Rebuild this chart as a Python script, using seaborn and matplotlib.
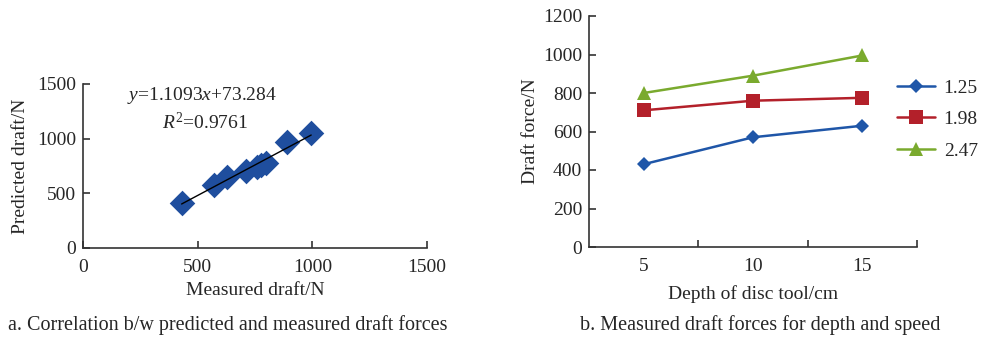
import numpy as np
import pandas as pd
import matplotlib
matplotlib.use("Agg")
import matplotlib.pyplot as plt
import seaborn as sns

sns.set_theme(style="ticks")
plt.rcParams['font.family'] = ['Liberation Serif', 'DejaVu Serif']
plt.rcParams['mathtext.fontset'] = 'custom'
plt.rcParams['mathtext.rm'] = 'Liberation Serif'
plt.rcParams['mathtext.it'] = 'Liberation Serif:italic'

# a. 实测与预测牵引力
measured = [430, 570, 630, 710, 760, 775, 800, 890, 995]
predicted = [410, 580, 645, 700, 740, 760, 775, 965, 1050]

# b. 不同深度与速度下的牵引力
depths = [5, 10, 15]
speeds = ['1.25', '1.98', '2.47']
force_125 = [430, 570, 630]
force_198 = [710, 760, 775]
force_247 = [800, 890, 995]

colors = {'1.25': '#1f56a8', '1.98': '#b3202a', '2.47': '#7aaa2e'}
markers = {'1.25': 'D', '1.98': 's', '2.47': '^'}
msize = {'1.25': 7, '1.98': 10, '2.47': 10}

fs = 14
fig = plt.figure(figsize=(9.82, 3.4), dpi=100)

# ---- 左图 ----
ax1 = fig.add_axes([83/982, 92/340, 344/982, 164/340])
df1 = pd.DataFrame({'measured': measured, 'predicted': predicted})
sns.regplot(data=df1, x='measured', y='predicted', ax=ax1, ci=None, truncate=True,
            marker='D', scatter_kws={'s': 170, 'color': '#1f4e9e', 'alpha': 1, 'linewidths': 0},
            line_kws={'color': 'black', 'lw': 1})
ax1.set_xlim(0, 1500)
ax1.set_ylim(0, 1500)
ax1.set_xticks([0, 500, 1000, 1500])
ax1.set_yticks([0, 500, 1000, 1500])
ax1.set_xlabel('Measured draft/N', fontsize=fs, labelpad=4)
ax1.set_ylabel('Predicted draft/N', fontsize=fs, labelpad=6)
ax1.text(192, 1399, r'$y$=1.1093$x$+73.284', fontsize=fs, va='center')
ax1.text(344, 1152, r'$R^2$=0.9761', fontsize=fs, va='center')

# ---- 右图 ----
ax2 = fig.add_axes([589/982, 93/340, 328/982, 231/340])
df2 = pd.DataFrame({
    'depth': depths * 3,
    'force': force_125 + force_198 + force_247,
    'speed': [s for s in speeds for _ in depths],
})
for s in speeds:
    sub = df2[df2['speed'] == s]
    sns.lineplot(data=sub, x='depth', y='force', ax=ax2, color=colors[s],
                 marker=markers[s], markersize=msize[s], markeredgewidth=0,
                 lw=1.8, label=s)
ax2.set_xlim(2.5, 17.5)
ax2.set_ylim(0, 1200)
ax2.set_xticks(depths)
ax2.set_xticks([7.5, 12.5, 17.5], minor=True)
ax2.set_yticks(range(0, 1201, 200))
ax2.tick_params(axis='x', which='major', length=0, pad=8)
ax2.tick_params(axis='x', which='minor', direction='in', length=5, width=1.2, color='#333333')
ax2.set_xlabel('Depth of disc tool/cm', fontsize=fs, labelpad=7)
ax2.set_ylabel('Draft force/N', fontsize=fs, labelpad=3)
ax2.legend(loc='upper left', bbox_to_anchor=(897/982, 1 - 79/340), bbox_transform=fig.transFigure,
           frameon=False, fontsize=fs, handlelength=1.95, handletextpad=0.45,
           labelspacing=0.72, borderaxespad=0, borderpad=0)

for ax in (ax1, ax2):
    sns.despine(ax=ax)
    for sp in ('left', 'bottom'):
        ax.spines[sp].set_linewidth(1.2)
        ax.spines[sp].set_color('#333333')
    ax.tick_params(axis='both', which='major', labelsize=fs, direction='in', width=1.2, color='#333333')
    ax.tick_params(axis='y', length=5, pad=5)

ax1.tick_params(axis='x', length=5, pad=8)

fig.text(228/982, 1 - 325/340, 'a. Correlation b/w predicted and measured draft forces',
         fontsize=14.5, ha='center', va='center')
fig.text(760/982, 1 - 325/340, 'b. Measured draft forces for depth and speed',
         fontsize=14.5, ha='center', va='center')

fig.savefig('out.png', dpi=100)
